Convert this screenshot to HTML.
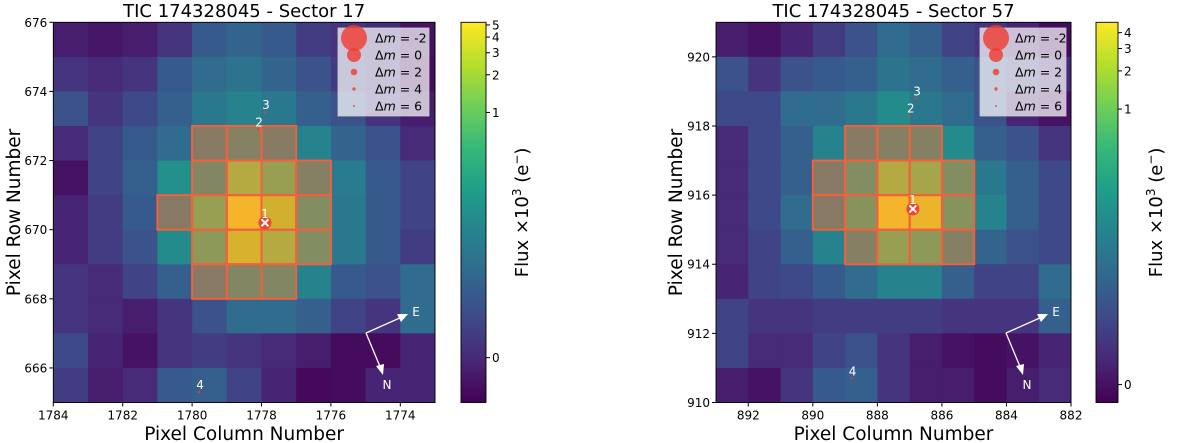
<!DOCTYPE html>
<html><head><meta charset="utf-8">
<style>
html,body{margin:0;padding:0;background:#fff;}
svg{display:block;font-family:"DejaVu Sans","Liberation Sans",sans-serif;}
</style></head>
<body>
<svg id="fig" width="1200" height="443" viewBox="0 0 1200 443" xmlns="http://www.w3.org/2000/svg"></svg>
<script>
const s17Flux = [
 [.08,.06,.08,.15,.28,.32,.28,.18,.15,.12,.05],
 [.15,.12,.15,.28,.35,.38,.32,.25,.18,.12,.03],
 [.25,.15,.22,.30,.40,.45,.40,.30,.25,.15,.08],
 [.12,.20,.28,.35,.42,.47,.42,.45,.32,.25,.12],
 [.05,.20,.30,.50,.50,.80,.70,.45,.42,.28,.20],
 [.10,.18,.28,.40,.70,.98,.88,.55,.40,.28,.20],
 [.10,.18,.25,.48,.65,.90,.80,.55,.40,.28,.18],
 [.15,.12,.20,.30,.40,.50,.50,.45,.28,.25,.35],
 [.15,.12,.08,.15,.25,.35,.35,.30,.20,.15,.35],
 [.22,.10,.05,.15,.18,.15,.12,.08,.03,.03,.10],
 [.18,.08,.12,.28,.30,.20,.10,.02,.03,.10,.10]
];
const s17Aperture = [[3,4],[3,5],[3,6],[4,4],[4,5],[4,6],[4,7],[5,3],[5,4],[5,5],[5,6],[5,7],[6,4],[6,5],[6,6],[6,7],[7,4],[7,5],[7,6]];
const s57Flux = [
 [.08,.05,.10,.18,.25,.35,.30,.20,.15,.10,.03],
 [.25,.15,.25,.28,.30,.38,.35,.30,.25,.20,.12],
 [.22,.22,.35,.35,.40,.48,.40,.35,.25,.10,.05],
 [.12,.22,.30,.45,.42,.45,.45,.48,.30,.25,.15],
 [.12,.22,.30,.40,.55,.80,.75,.55,.40,.30,.22],
 [.12,.22,.35,.40,.60,.98,.95,.60,.45,.30,.22],
 [.12,.20,.30,.45,.45,.70,.65,.45,.32,.25,.22],
 [.10,.20,.22,.28,.35,.45,.45,.30,.20,.20,.35],
 [.20,.15,.15,.18,.18,.18,.18,.15,.15,.15,.30],
 [.20,.12,.12,.20,.25,.15,.08,.05,.03,.05,.10],
 [.08,.05,.15,.28,.30,.15,.08,.08,.03,.08,.12]
];
const s57Aperture = [[3,4],[3,5],[3,6],[4,3],[4,4],[4,5],[4,6],[4,7],[5,3],[5,4],[5,5],[5,6],[5,7],[6,4],[6,5],[6,6],[6,7]];
const s17Stars = [[1777.9,670.2,'1'],[1778.1,672.9,'2'],[1777.9,673.4,'3'],[1779.8,665.3,'4']];
const s57Stars = [[886.9,915.6,'1'],[887.0,918.3,'2'],[886.8,918.8,'3'],[888.8,910.7,'4']];
const s17XTicks = [1784,1782,1780,1778,1776,1774];
const s17YTicks = [666,668,670,672,674,676];
const s57XTicks = [892,890,888,886,884,882];
const s57YTicks = [910,912,914,916,918,920];
const s17CbTicks = [0,1,2,3,4,5];
const s57CbTicks = [0,1,2,3,4];
const legendDm = [-2,0,2,4,6];
const legendR = [13,7,3.3,1.7,1];

const VIR = [[68,1,84],[72,40,120],[62,74,137],[49,104,142],[38,130,142],[31,158,137],[53,183,121],[110,206,88],[181,222,43],[253,231,37]];
function viridis(t){t=Math.max(0,Math.min(1,t));const p=t*(VIR.length-1);const i=Math.min(VIR.length-2,Math.floor(p));const f=p-i;
 return VIR[i].map((v,k)=>v+(VIR[i+1][k]-v)*f);}
function rgb(a){return 'rgb('+a.map(Math.round).join(',')+')';}
const NS='http://www.w3.org/2000/svg';
const svg=document.getElementById('fig');
function el(tag,attrs,parent,text){const e=document.createElementNS(NS,tag);for(const k in attrs)e.setAttribute(k,attrs[k]);if(text!==undefined)e.textContent=text;(parent||svg).appendChild(e);return e;}

function panel(cfg){
 const g=el('g',{});
 
 
 const sx=v=>cfg.x0+(cfg.xmin-v)/(cfg.xmin-cfg.xmax)*(cfg.x1-cfg.x0);
 const sy=v=>cfg.y1-(v-cfg.ymin)/(cfg.ymax-cfg.ymin)*(cfg.y1-cfg.y0);
 const ap=new Set(cfg.ap.map(a=>a[0]+'_'+a[1]));
 cfg.flux.forEach((row,r)=>row.forEach((val,c)=>{
   const xa=sx(cfg.xmin-c),xb=sx(cfg.xmin-c-1),ya=sy(cfg.ymax-r),yb=sy(cfg.ymax-r-1);
   let col=viridis(val);
   if(ap.has(r+'_'+c)) col=col.map((v,k)=>v*0.55+[250,122,48][k]*0.45);
   const rc=el('rect',{x:xa,y:ya,width:xb-xa+0.5,height:yb-ya+0.5,fill:rgb(col)},g);
   
   
 }));
 cfg.ap.forEach(a=>{const r=a[0],c=a[1];
   const xa=sx(cfg.xmin-c),xb=sx(cfg.xmin-c-1),ya=sy(cfg.ymax-r),yb=sy(cfg.ymax-r-1);
   const rc=el('rect',{x:xa,y:ya,width:xb-xa,height:yb-ya,fill:'none',stroke:'#f2603c','stroke-width':2},g);
   
   
 });
 cfg.stars.forEach(s=>{const x=sx(s[0]),y=sy(s[1]);
   if(s[2]==='1'){
     const c=el('circle',{cx:x,cy:y,r:6.5,fill:'#f03a30','fill-opacity':0.9},g);
     
     
     el('path',{d:`M${x-3.5} ${y-3.5}L${x+3.5} ${y+3.5}M${x-3.5} ${y+3.5}L${x+3.5} ${y-3.5}`,stroke:'#fff','stroke-width':2},g);
     el('text',{x:x,y:y-5,'font-size':12,fill:'#fff','text-anchor':'middle'},g,'1');
   } else {
     const c=el('circle',{cx:x,cy:y,r:1.2,fill:'#f03a30'},g);
     
     
     const t=el('text',{x:x+1,y:y-3,'font-size':12,fill:'#fff','text-anchor':'middle'},g,s[2]);
     
     
   }
 });
 const o=cfg.compass;
 const cg=el('g',{},g);
 
 
 el('line',{x1:o[0],y1:o[1],x2:o[0]+36,y2:o[1]-16,stroke:'#fff','stroke-width':1.3},cg);
 el('polygon',{points:`${o[0]+42},${o[1]-19} ${o[0]+31},${o[1]-19} ${o[0]+35},${o[1]-11}`,fill:'#fff'},cg);
 el('line',{x1:o[0],y1:o[1],x2:o[0]+15,y2:o[1]+36,stroke:'#fff','stroke-width':1.3},cg);
 el('polygon',{points:`${o[0]+17},${o[1]+42} ${o[0]+10},${o[1]+33} ${o[0]+18},${o[1]+31}`,fill:'#fff'},cg);
 el('text',{x:o[0]+50,y:o[1]-17,'font-size':12,fill:'#fff','text-anchor':'middle'},cg,'E');
 el('text',{x:o[0]+21,y:o[1]+56,'font-size':12,fill:'#fff','text-anchor':'middle'},cg,'N');
 const L=cfg.legend;
 const lg=el('g',{},g);
 
 
 el('rect',{x:L[0],y:28,width:L[1],height:88,fill:'#fff','fill-opacity':0.72,stroke:'#ccc','stroke-width':0.8},lg);
 legendDm.forEach((d,i)=>{const y=38+i*17;
   const c=el('circle',{cx:L[2],cy:y,r:legendR[i],fill:'#f03a30','fill-opacity':0.8},lg);
   
   
   const t=el('text',{x:L[3],y:y+4.5,'font-size':12.5,fill:'#000'},lg);
   
   
   el('tspan',{},t,'Δ');el('tspan',{'font-style':'italic'},t,'m');el('tspan',{},t,' =  '+d);
 });
 el('rect',{x:cfg.x0,y:cfg.y0,width:cfg.x1-cfg.x0,height:cfg.y1-cfg.y0,fill:'none',stroke:'#000','stroke-width':0.9},g);
 cfg.xt.forEach(v=>{const x=sx(v);el('line',{x1:x,y1:cfg.y1,x2:x,y2:cfg.y1+4,stroke:'#000'},g);
   const t=el('text',{x:x,y:cfg.y1+17,'font-size':12,'text-anchor':'middle'},g,String(v));
   });
 cfg.yt.forEach(v=>{const y=sy(v);el('line',{x1:cfg.x0-4,y1:y,x2:cfg.x0,y2:y,stroke:'#000'},g);
   const t=el('text',{x:cfg.x0-6,y:y+4.5,'font-size':12,'text-anchor':'end'},g,String(v));
   });
 const tt=el('text',{x:(cfg.x0+cfg.x1)/2,y:17,'font-size':18,'text-anchor':'middle'},g,cfg.title);
 
 const xl=el('text',{x:(cfg.x0+cfg.x1)/2,y:440,'font-size':18.5,'text-anchor':'middle'},g,'Pixel Column Number');
 
 const yl=el('text',{x:0,y:0,'font-size':18.5,'text-anchor':'middle',transform:`translate(${cfg.ylx},${(cfg.y0+cfg.y1)/2}) rotate(-90)`},g,'Pixel Row Number');
 
 const cb=cfg.cb;
 const gid='grad'+cfg.name;
 const defs=el('defs',{},g);const lgd=el('linearGradient',{id:gid,x1:0,y1:1,x2:0,y2:0},defs);
 VIR.forEach((c,i)=>el('stop',{offset:i/(VIR.length-1),'stop-color':rgb(c)},lgd));
 const cbr=el('rect',{x:cb.x,y:cfg.y0,width:cb.w,height:cfg.y1-cfg.y0,fill:`url(#${gid})`,stroke:'#000','stroke-width':0.9},g);
 
 cb.ticks.forEach(v=>{const f=cb.a+cb.b*Math.asinh(v/cb.c);const y=cfg.y1-f*(cfg.y1-cfg.y0);
   el('line',{x1:cb.x+cb.w,y1:y,x2:cb.x+cb.w+4,y2:y,stroke:'#000'},g);
   const t=el('text',{x:cb.x+cb.w+6,y:y+4.5,'font-size':12},g,String(v));
   });
 const cl=el('text',{x:0,y:0,'font-size':18,'text-anchor':'middle',transform:`translate(${cb.lx},${(cfg.y0+cfg.y1)/2}) rotate(-90)`},g);
 
 el('tspan',{},cl,'Flux ×10');el('tspan',{'font-size':12,dy:-7},cl,'3');el('tspan',{dy:7},cl,' (e');el('tspan',{'font-size':12,dy:-7},cl,'−');el('tspan',{dy:7},cl,')');
}

panel({name:'sector-17-panel',title:'TIC 174328045 - Sector 17',x0:53.3,x1:435,y0:22.3,y1:402.5,xmin:1784,xmax:1773,ymin:665,ymax:676,
 flux:s17Flux,ap:s17Aperture,stars:s17Stars,xt:s17XTicks,yt:s17YTicks,compass:[366,333],legend:[338,91,354,375],ylx:20,
 cb:{x:461,w:25,ticks:s17CbTicks,a:0.118,b:0.143,c:0.022,lx:528}});
panel({name:'sector-57-panel',title:'TIC 174328045 - Sector 57',x0:716,x1:1071,y0:22.3,y1:402.5,xmin:893,xmax:882,ymin:910,ymax:921,
 flux:s57Flux,ap:s57Aperture,stars:s57Stars,xt:s57XTicks,yt:s57YTicks,compass:[1006,333],legend:[980,86,996,1015],ylx:682,
 cb:{x:1096,w:22,ticks:s57CbTicks,a:0.047,b:0.145,c:0.0135,lx:1162}});
</script>
</body></html>
